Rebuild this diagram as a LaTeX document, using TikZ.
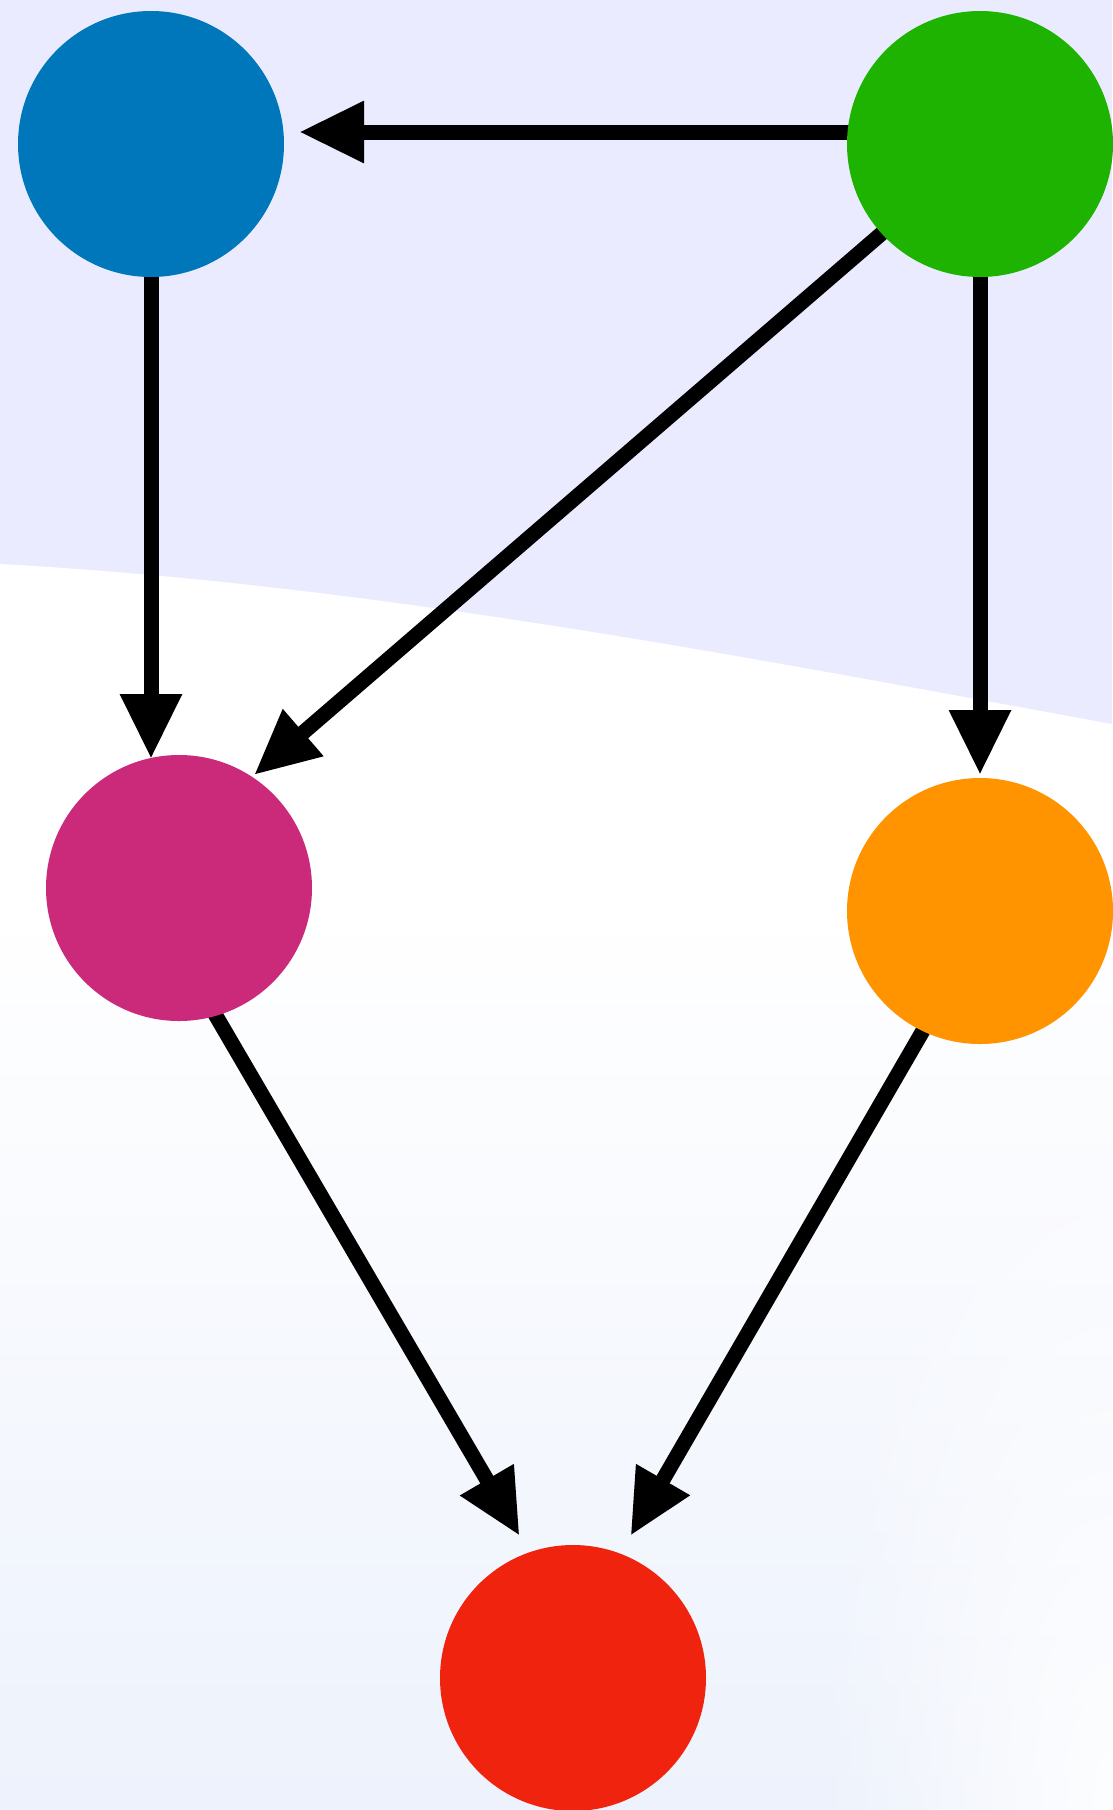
\documentclass[tikz,border=0pt]{standalone}
\usetikzlibrary{arrows.meta,calc,fadings}
\definecolor{topbg}{RGB}{234,235,254}
\definecolor{lowbg}{RGB}{237,242,252}
\definecolor{cblue}{RGB}{0,119,187}
\definecolor{cgreen}{RGB}{30,179,0}
\definecolor{cmagenta}{RGB}{203,42,123}
\definecolor{corange}{RGB}{255,148,0}
\definecolor{cred}{RGB}{240,35,15}
\pgfdeclarelayer{back}
\pgfdeclarelayer{edges}
\pgfsetlayers{back,edges,main}
\tikzfading[name=softglow, inner color=transparent!0, outer color=transparent!100]
\tikzset{
  ball/.style={circle, minimum size=266pt, inner sep=0pt, draw=none},
  link/.style={line width=15pt, -{Triangle[length=65pt,width=58pt]}}
}
\begin{document}
\begin{tikzpicture}[x=1pt,y=-1pt]
\useasboundingbox (0,0) rectangle (1112,1810);
\begin{pgfonlayer}{back}
  \fill[topbg] (0,0) rectangle (1112,1810);
  \fill[white] (0,564) .. controls (380,585) and (760,660) .. (1112,724) -- (1112,1810) -- (0,1810) -- cycle;
  \shade[top color=white, bottom color=lowbg] (0,900) rectangle (1112,1810);
  \fill[white, path fading=softglow, opacity=0.9] (1112,1810) ellipse (300 and 760);
\end{pgfonlayer}
\node[ball, fill=cblue] (blue) at (151,144) {};
\node[ball, fill=cgreen] (green) at (980,144) {};
\node[ball, fill=cmagenta] (magenta) at (179,888) {};
\node[ball, fill=corange] (orange) at (980,911) {};
\node[ball, fill=cred] (red) at (573,1678) {};
\begin{pgfonlayer}{edges}
  \draw[link] ($(green)+(-130,-12)$) -- ($(blue)+(148,-12)$);
  \draw[link] ($(blue)+(0,128)$) -- ($(magenta)+(-28,-129)$);
  \draw[link] ($(green)+(-92,84)$) -- ($(magenta)+(75,-113)$);
  \draw[link] ($(green)+(0,128)$) -- ($(orange)+(0,-136)$);
  \draw[link] ($(magenta)+(33,121)$) -- ($(red)+(-53.4,-142.2)$);
  \draw[link] ($(orange)+(-52,111)$) -- ($(red)+(57.5,-142.2)$);
\end{pgfonlayer}
\end{tikzpicture}
\end{document}
